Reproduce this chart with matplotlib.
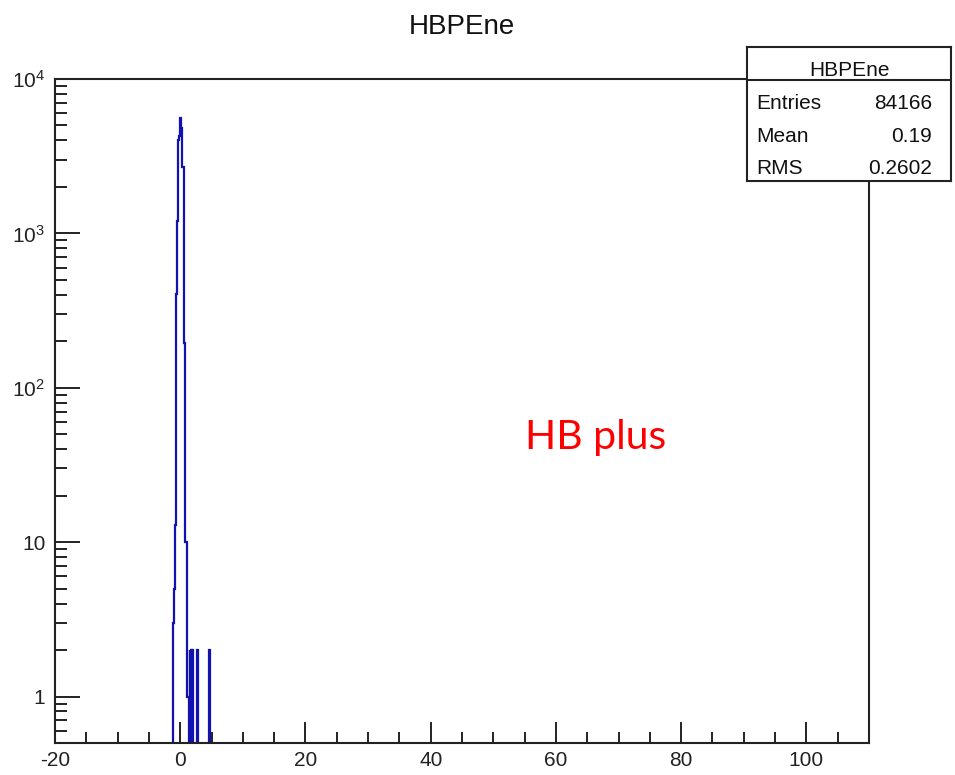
import numpy as np
import matplotlib
matplotlib.use("Agg")
import matplotlib.pyplot as plt
from matplotlib.ticker import FixedLocator, LogLocator, FuncFormatter, MultipleLocator

# ---------------- data ----------------
bin_low = [-1.3, -1.2, -1.1, -1.0, -0.9, -0.8, -0.7, -0.6, -0.5, -0.4,
           -0.3, -0.2, -0.1, 0.0, 0.1, 0.2, 0.3, 0.4, 0.5, 0.6,
           0.7, 0.8, 0.9, 1.0, 1.1, 1.2, 1.3, 1.4, 1.5, 1.6,
           1.7, 1.8, 1.9, 2.0, 2.6, 2.7, 2.8, 4.5, 4.6, 4.7]
bin_high = [-1.2, -1.1, -1.0, -0.9, -0.8, -0.7, -0.6, -0.5, -0.4, -0.3,
            -0.2, -0.1, 0.0, 0.1, 0.2, 0.3, 0.4, 0.5, 0.6, 0.7,
            0.8, 0.9, 1.0, 1.1, 1.2, 1.3, 1.4, 1.5, 1.6, 1.7,
            1.8, 1.9, 2.0, 2.6, 2.7, 2.8, 4.5, 4.6, 4.7, 5.0]
counts = [0, 3, 3, 5, 6, 13, 17, 405, 1200, 2500,
          4000, 4300, 5000, 5600, 5200, 4800, 2700, 2700, 2700, 195,
          195, 10, 10, 10, 1, 1, 1, 0, 2, 0,
          2, 1, 2, 0, 0, 2, 0, 0, 2, 0]

title = "HBPEne"
stats_labels = ["Entries", "Mean", "RMS"]
stats_values = ["84166", "0.19", "0.2602"]
annotation = "HB plus"
x_major = [-20, 0, 20, 40, 60, 80, 100]

# ---------------- style ----------------
W, H = 955, 775
plt.rcParams['font.family'] = ['Liberation Sans', 'DejaVu Sans']
plt.rcParams['mathtext.fontset'] = 'custom'
plt.rcParams['mathtext.rm'] = 'Liberation Sans'
plt.rcParams['mathtext.it'] = 'Liberation Sans'

fig = plt.figure(figsize=(W / 100, H / 100), dpi=100)
fig.patch.set_facecolor('white')

L, R, T, B = 55, 869, 79, 743
ax = fig.add_axes([L / W, 1 - B / H, (R - L) / W, (B - T) / H])

edges = np.array(list(bin_low) + [bin_high[-1]])
vals = np.array(counts, dtype=float)
vals_plot = np.where(vals > 0, vals, 1e-3)
ax.stairs(vals_plot, edges, baseline=1e-3, color='#1212b0', linewidth=1.6)

ax.set_yscale('log')
ax.set_xlim(-20, 110)
ax.set_ylim(0.5, 1e4)

for s in ['left', 'bottom', 'top', 'right']:
    ax.spines[s].set_linewidth(1.5)
    ax.spines[s].set_color('#222222')

ax.xaxis.set_major_locator(FixedLocator(x_major))
ax.xaxis.set_minor_locator(MultipleLocator(5))
ax.set_xticklabels([str(v) for v in x_major])

ax.yaxis.set_major_locator(LogLocator(base=10, numticks=10))
ax.yaxis.set_minor_locator(LogLocator(base=10, subs=np.arange(2, 10), numticks=20))


def yfmt(v, pos):
    e = int(round(np.log10(v)))
    if e == 0:
        return "1"
    if e == 1:
        return "10"
    return r"$\mathregular{10^{%d}}$" % e


ax.yaxis.set_major_formatter(FuncFormatter(yfmt))

ax.tick_params(axis='x', which='major', direction='in', length=15, width=1.4,
               labelsize=15, pad=6, top=False, color='#222222',
               labelcolor='#222222')
ax.tick_params(axis='x', which='minor', direction='in', length=8, width=1.4,
               top=False, color='#222222')
ax.tick_params(axis='y', which='major', direction='in', length=18, width=1.4,
               labelsize=15, pad=7, right=False, color='#222222',
               labelcolor='#222222')
ax.tick_params(axis='y', which='minor', direction='in', length=8.5, width=1.4,
               right=False, color='#222222')

# title
fig.text(462 / W, 1 - 34 / H, title, ha='center', va='baseline', fontsize=20,
         color='#111111')

# stats box
bx0, by0, bx1, by1 = 747, 47, 951, 181
sax = fig.add_axes([bx0 / W, 1 - by1 / H, (bx1 - bx0) / W, (by1 - by0) / H])
sax.set_xlim(0, 1)
sax.set_ylim(0, 1)
sax.set_xticks([])
sax.set_yticks([])
sax.set_facecolor('white')
for s in sax.spines.values():
    s.set_linewidth(1.5)
    s.set_color('#222222')
sax.axhline(1 - (80 - by0) / (by1 - by0), color='#222222', linewidth=1.5)

fig.text(849 / W, 1 - 76 / H, title, ha='center', va='baseline', fontsize=15,
         color='#111111')
row_base = [109, 142, 174]
for lab, val, yb in zip(stats_labels, stats_values, row_base):
    fig.text(756 / W, 1 - yb / H, lab, ha='left', va='baseline', fontsize=15,
             color='#111111')
    fig.text(932 / W, 1 - yb / H, val, ha='right', va='baseline', fontsize=15,
             color='#111111')

# annotation
fig.text(525 / W, 1 - 449 / H, annotation, ha='left', va='baseline',
         fontsize=29.5, color='#ff0000', family=['Lato', 'DejaVu Sans'])

fig.savefig('out.png', dpi=100, facecolor='white')
